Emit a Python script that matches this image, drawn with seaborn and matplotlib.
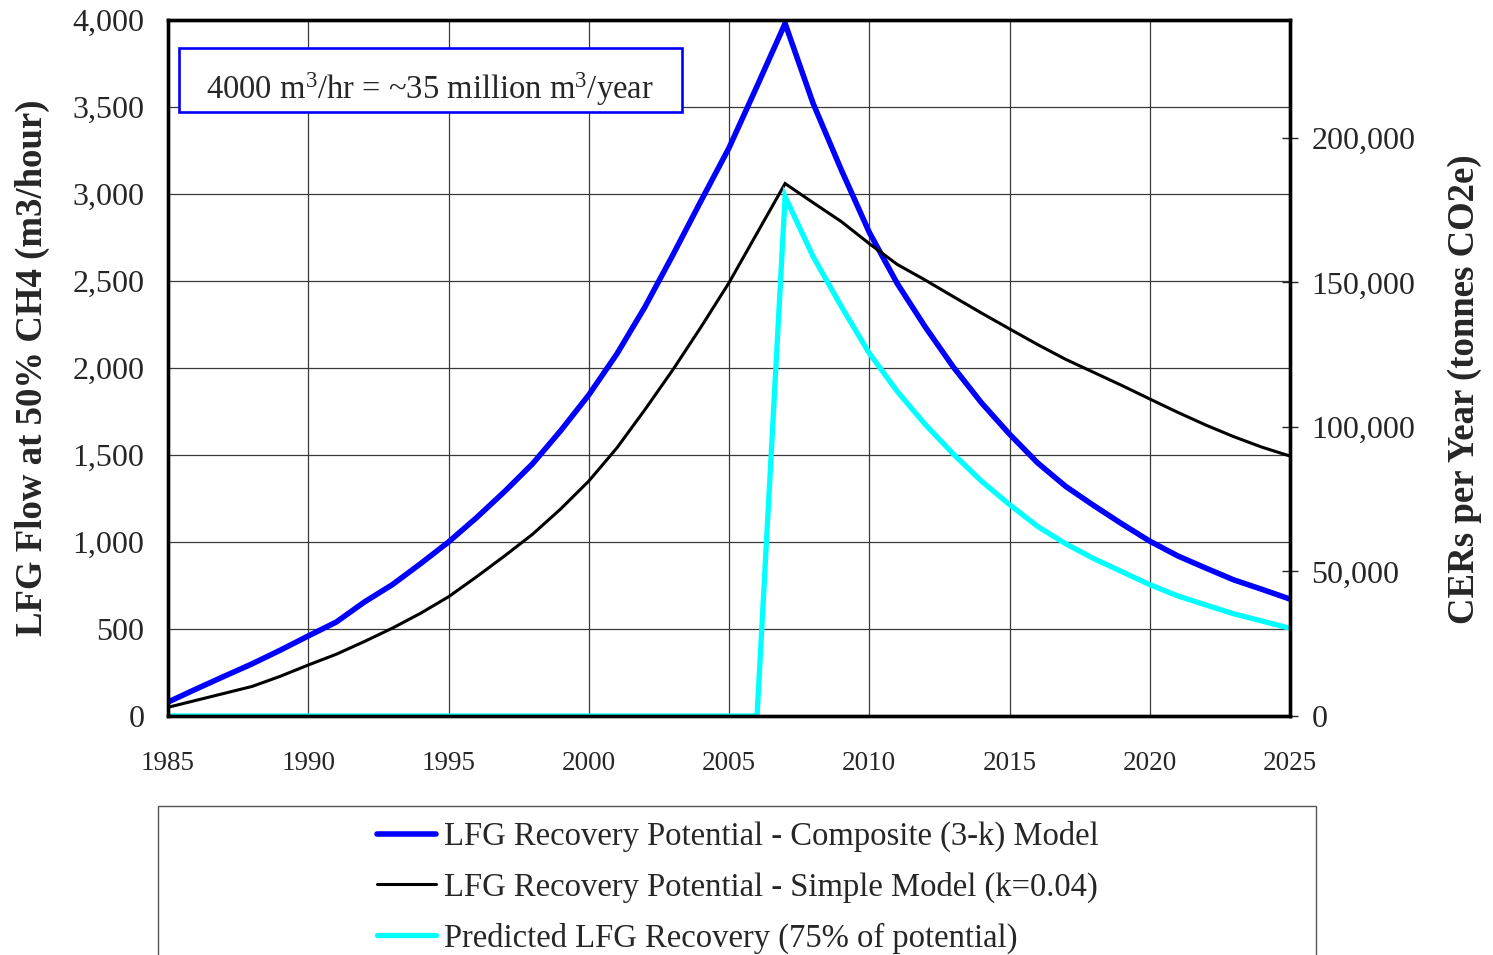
import numpy as np
import pandas as pd
import matplotlib
matplotlib.use("Agg")
import matplotlib.pyplot as plt
from matplotlib.patches import Rectangle
from matplotlib.ticker import FuncFormatter
import seaborn as sns

# ---- data -------------------------------------------------------------
years = list(range(1985, 2026))

# LFG recovery potential, composite (3-k) model, m3/hr at 50% CH4
composite = [80, 155, 228, 300, 378, 460, 540, 655, 755, 875,
             1000, 1140, 1290, 1450, 1640, 1845, 2080, 2350, 2650, 2960,
             3265, 3620, 3980, 3520, 3140, 2780, 2485, 2235, 2005, 1800,
             1620, 1455, 1320, 1210, 1105, 1005, 920, 850, 782, 728,
             672]

# LFG recovery potential, simple first-order model (k=0.04)
simple = [50, 90, 130, 170, 228, 293, 355, 428, 505, 590,
          685, 800, 920, 1045, 1190, 1350, 1540, 1760, 1990, 2235,
          2490, 2775, 3060, 2950, 2842, 2715, 2595, 2505, 2410, 2316,
          2225, 2135, 2050, 1975, 1900, 1822, 1745, 1672, 1605, 1545,
          1494]

# Predicted recovery once the collection system starts (75% of potential)
predicted = [0, 0, 0, 0, 0, 0, 0, 0, 0, 0,
             0, 0, 0, 0, 0, 0, 0, 0, 0, 0,
             0, 0, 2985, 2640, 2355, 2085, 1865, 1675, 1505, 1350,
             1215, 1090, 990, 905, 830, 755, 690, 638, 587, 546,
             504]

series_labels = [
    "LFG Recovery Potential - Composite (3-k) Model",
    "LFG Recovery Potential - Simple Model (k=0.04)",
    "Predicted LFG Recovery (75% of potential)",
]
series_colors = ["#0000FF", "#000000", "#00FFFF"]
series_widths = [4.0, 2.2, 3.8]

x_ticks = list(range(1985, 2026, 5))
left_ticks = list(range(0, 4001, 500))
right_ticks = [0, 50000, 100000, 150000, 200000]

# tonnes CO2e per year for each m3/hr of LFG (50% CH4)
CER_PER_FLOW = 60.2

df = pd.DataFrame({
    "year": years * 3,
    "flow": composite + simple + predicted,
    "series": ([series_labels[0]] * len(years) + [series_labels[1]] * len(years)
               + [series_labels[2]] * len(years)),
})

# ---- style ------------------------------------------------------------
sns.set_style("white")
plt.rcParams["font.family"] = ["Liberation Serif", "DejaVu Serif"]
plt.rcParams["mathtext.fontset"] = "custom"
plt.rcParams["mathtext.rm"] = "Liberation Serif"
plt.rcParams["mathtext.it"] = "Liberation Serif:italic"

fig = plt.figure(figsize=(14.93, 9.55), dpi=100)
ax = fig.add_axes([168 / 1493, 1 - 716 / 955, 1122 / 1493, 696 / 955])

for lab, col, lw in zip(series_labels, series_colors, series_widths):
    sns.lineplot(data=df[df["series"] == lab], x="year", y="flow", ax=ax,
                 color=col, linewidth=lw, label=lab, legend=False,
                 solid_joinstyle="miter", zorder=3)
handles = ax.get_lines()

ax.set_xlim(1985, 2025)
ax.set_ylim(0, 4000)
ax.set_xticks(x_ticks)
ax.set_yticks(left_ticks)
ax.yaxis.set_major_formatter(FuncFormatter(lambda v, p: f"{int(v):,}"))
ax.tick_params(axis="both", length=0)
ax.tick_params(axis="x", pad=25, labelsize=19.5)
ax.tick_params(axis="y", pad=17, labelsize=23)
ax.grid(True, color="#3a3a3a", linewidth=0.9, zorder=0)
ax.set_axisbelow(True)
ax.set_xlabel("")
ax.set_ylabel("LFG Flow at 50% CH4 (m3/hour)", fontsize=26.5,
              fontweight="bold", labelpad=16)
for s in ax.spines.values():
    s.set_color("black")
    s.set_linewidth(2.4)
    s.set_zorder(4)

# secondary axis: certified emission reductions
ax2 = ax.twinx()
ax2.set_ylim(0, 4000 * CER_PER_FLOW)
ax2.set_yticks(right_ticks)
ax2.yaxis.set_major_formatter(FuncFormatter(lambda v, p: f"{int(v):,}"))
ax2.tick_params(axis="y", direction="inout", length=11, width=1.0,
                labelsize=23, pad=10)
ax2.set_ylabel("CERs per Year (tonnes CO2e)", fontsize=26.5,
               fontweight="bold")
ax2.yaxis.set_label_coords(1.140, 0.47)
for s in ax2.spines.values():
    s.set_linewidth(2.4)
    s.set_color("black")

# note box
ax.add_patch(Rectangle((11 / 1122, 604 / 696), 503 / 1122, 64 / 696,
                       transform=ax.transAxes, fill=True, facecolor="white",
                       edgecolor="#0000FF", linewidth=1.9, zorder=5))
ax.text(262 / 1122, 627 / 696, r"4000 m$^3$/hr = ~35 million m$^3$/year",
        transform=ax.transAxes, ha="center", va="center", fontsize=23.5,
        zorder=6)

# legend panel below the plot
fig.patches.append(Rectangle((158 / 1493, -0.05), 1158 / 1493,
                             1 - 806 / 955 + 0.05, transform=fig.transFigure,
                             fill=False, edgecolor="#555555", linewidth=1.0))
fig.legend(handles, series_labels, loc="upper left",
           bbox_to_anchor=(377 / 1493, 1 - 821 / 955), frameon=False,
           fontsize=23.5, handlelength=1.8, handletextpad=0.25,
           labelspacing=0.6, borderpad=0, borderaxespad=0)

fig.savefig("out.png", dpi=100)
